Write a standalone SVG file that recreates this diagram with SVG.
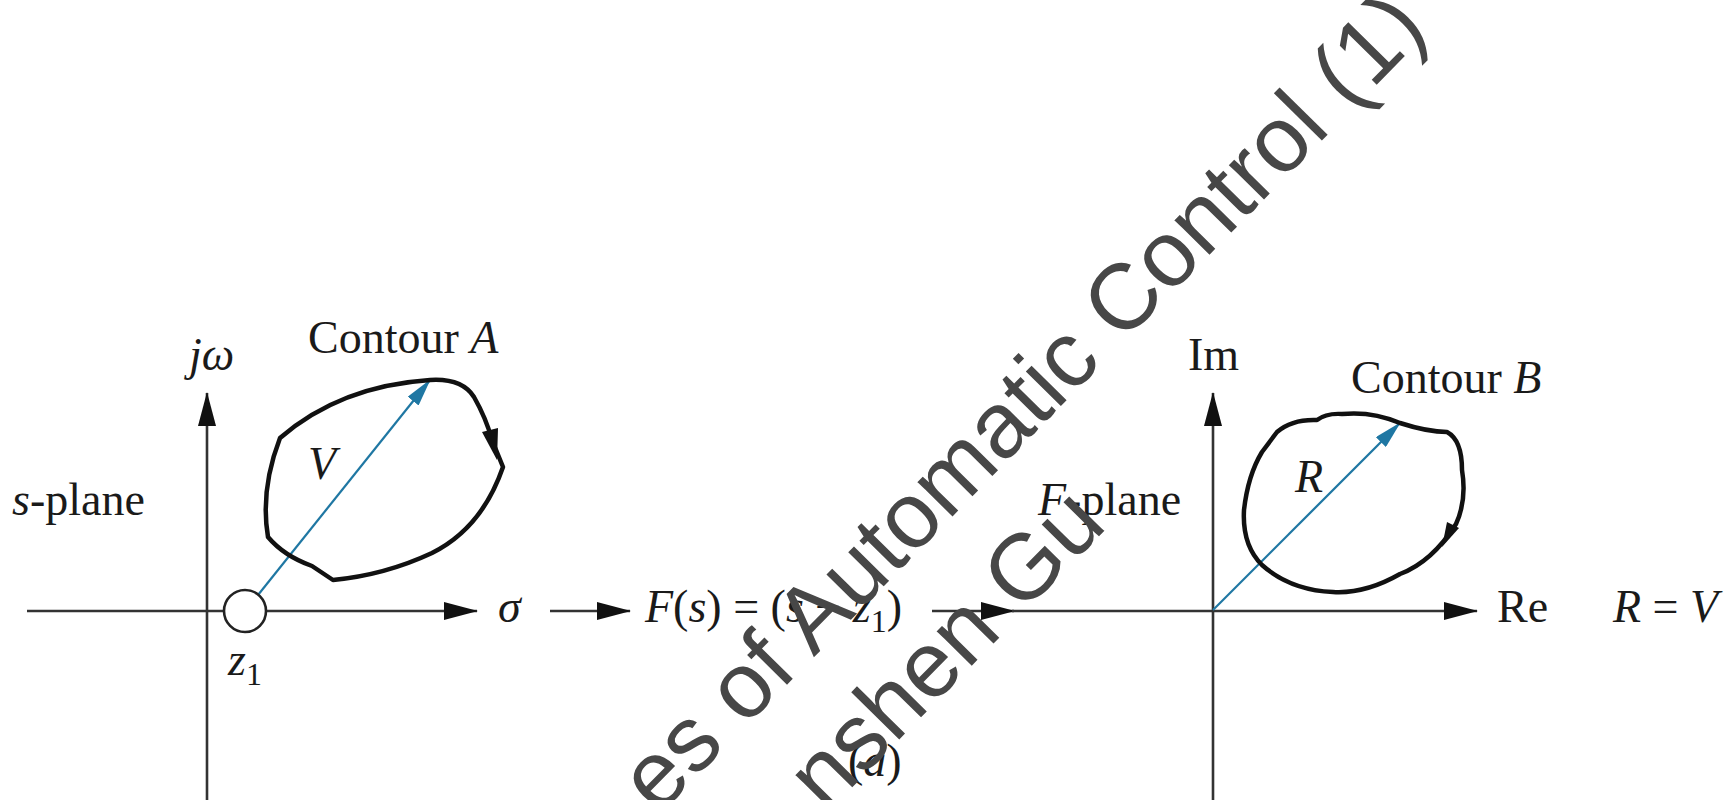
<svg xmlns="http://www.w3.org/2000/svg" width="1730" height="800" viewBox="0 0 1730 800">
<style>
text{font-family:"Liberation Serif","Times New Roman",serif;font-size:46px;fill:#1a1a1a}
.i{font-style:italic}
.sub{font-size:32px}
.axis{stroke:#333;stroke-width:2.6;fill:none}
.contour{stroke:#111;stroke-width:4.5;fill:none;stroke-linejoin:round}
.vec{stroke:#1f77a3;stroke-width:2.2;fill:none}
.wm{font-family:"Liberation Sans",Arial,sans-serif;font-size:93px;fill:#474747}
</style>
<defs>
<marker id="ah" viewBox="0 0 34 18" refX="33" refY="9" markerWidth="34" markerHeight="18" markerUnits="userSpaceOnUse" orient="auto"><path d="M0,0 L34,9 L0,18 Z" fill="#111"/></marker>
<marker id="bh" viewBox="0 0 28 14" refX="27" refY="7" markerWidth="28" markerHeight="14" markerUnits="userSpaceOnUse" orient="auto"><path d="M0,0 L28,7 L0,14 Z" fill="#1f77a3"/></marker>
</defs>
<rect width="1730" height="800" fill="#fff"/>

<g id="connectors">
<line class="axis" x1="27" y1="611" x2="477" y2="611" marker-end="url(#ah)"/>
<line class="axis" x1="207" y1="800" x2="207" y2="393" marker-end="url(#ah)"/>
<line class="axis" x1="550" y1="611" x2="630" y2="611" marker-end="url(#ah)"/>
<line class="axis" x1="932" y1="611" x2="1014" y2="611" marker-end="url(#ah)"/>
<line class="axis" x1="1012" y1="611" x2="1477" y2="611" marker-end="url(#ah)"/>
<line class="axis" x1="1213" y1="800" x2="1213" y2="393" marker-end="url(#ah)"/>
<line class="vec" x1="258" y1="595" x2="430" y2="380" marker-end="url(#bh)"/>
<line class="vec" x1="1213" y1="610" x2="1400" y2="423" marker-end="url(#bh)"/>
</g>

<g id="s-plane">
<text x="189" y="370" class="i">jω</text>
<text x="12" y="515"><tspan class="i">s</tspan>-plane</text>
<text x="498" y="622" class="i">σ</text>
<text x="228" y="675"><tspan class="i">z</tspan><tspan class="sub" dy="10">1</tspan></text>
</g>

<g id="zero-z1">
<circle cx="245" cy="611" r="21" fill="#fff" stroke="#222" stroke-width="2.6"/>
</g>

<g id="contour-A">
<path class="contour" d="M280,438 Q340,386 430,380 Q462,378 474,397 Q486,418 492,440 L503,467 Q482,528 432,553 Q385,575 333,580 L312,566 Q284,556 268,537 Q260,490 280,438 Z"/>
<polygon points="498,428 482,432 497,460" fill="#111"/>
<text x="308" y="353">Contour <tspan class="i">A</tspan></text>
<text x="308" y="479" class="i">V</text>
</g>

<g id="mapping">
<text x="645" y="622"><tspan class="i">F</tspan>(<tspan class="i">s</tspan>) = (<tspan class="i">s</tspan> − <tspan class="i">z</tspan><tspan class="sub" dy="10">1</tspan><tspan dy="-10">)</tspan></text>
<text x="848" y="776">(<tspan class="i">a</tspan>)</text>
</g>

<g id="F-plane">
<text x="1188" y="370">Im</text>
<text x="1038" y="515"><tspan class="i">F</tspan>-plane</text>
<text x="1497" y="622">Re</text>
<text x="1613" y="622"><tspan class="i">R</tspan> = <tspan class="i">V</tspan></text>
</g>

<g id="contour-B">
<path class="contour" d="M1277,432 Q1292,419 1317,420 Q1326,413 1342,414 Q1372,411 1400,423 Q1428,432 1447,432 Q1462,440 1462,470 Q1467,500 1456,524 Q1432,562 1400,574 Q1365,594 1333,592 Q1290,590 1262,565 Q1242,545 1244,510 Q1248,475 1262,452 Z"/>
<polygon points="1459,528 1447,522 1442,547" fill="#111"/>
<text x="1351" y="393">Contour <tspan class="i">B</tspan></text>
<text x="1295" y="492" class="i">R</text>
</g>

<g id="watermark">
<text class="wm" transform="translate(658,816) rotate(-45.5)">es of Automatic Control (1)</text>
<text class="wm" transform="translate(826,814) rotate(-45.5)">nshen Gu</text>
</g>
</svg>
